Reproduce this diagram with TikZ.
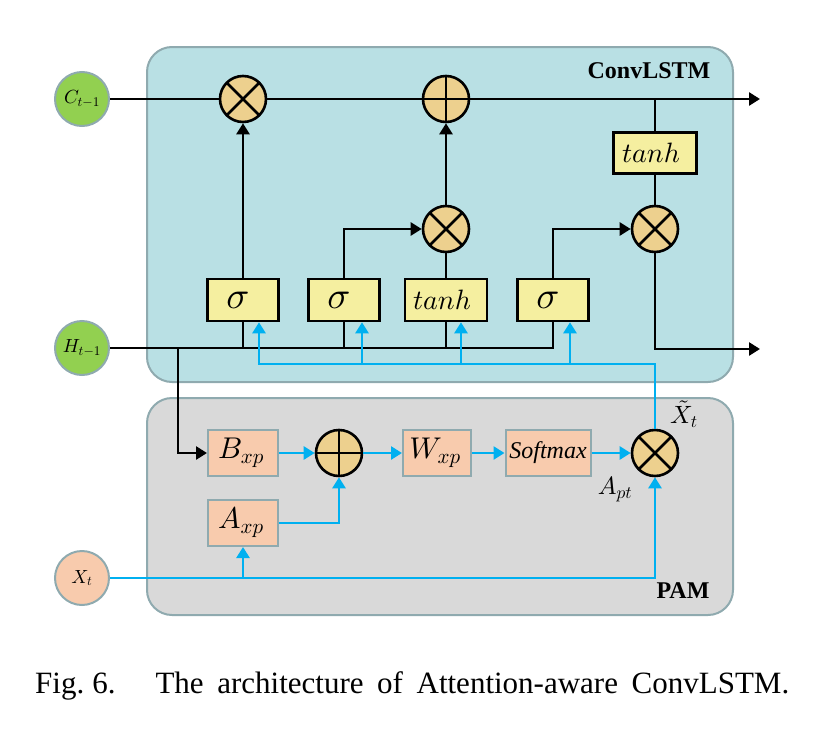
\documentclass[tikz,border=0pt]{standalone}
\usepackage{fontspec}
\setmainfont{Liberation Serif}
\DeclareFontShape{OML}{cmm}{m}{it}{<->cmmi10}{}
\DeclareFontShape{OMS}{cmsy}{m}{n}{<->cmsy10}{}
\DeclareFontShape{OT1}{cmr}{m}{n}{<->cmr10}{}
\usetikzlibrary{arrows.meta,calc}
\definecolor{lstmfill}{RGB}{185,224,228}
\definecolor{pamfill}{RGB}{217,217,217}
\definecolor{bord}{RGB}{143,170,175}
\definecolor{cgreen}{RGB}{146,208,80}
\definecolor{peach}{RGB}{248,203,173}
\definecolor{opfill}{RGB}{237,208,142}
\definecolor{yfill}{RGB}{245,239,160}
\definecolor{lineblue}{RGB}{0,176,240}
\tikzset{
  ln/.style={line width=2.6pt},
  bl/.style={line width=2.6pt, draw=lineblue},
  arr/.style={-{Triangle[length=11pt,width=13pt]}},
  opc/.style={circle, draw, line width=2.6pt, fill=opfill, minimum size=46pt, inner sep=0pt},
  mul/.style={opc, path picture={\draw[line width=2.6pt] (path picture bounding box.north west) -- (path picture bounding box.south east) (path picture bounding box.north east) -- (path picture bounding box.south west);}},
  add/.style={opc, path picture={\draw[line width=2.6pt] (path picture bounding box.north) -- (path picture bounding box.south) (path picture bounding box.west) -- (path picture bounding box.east);}},
  ybox/.style={draw, line width=2.6pt, fill=yfill, minimum width=71pt, minimum height=42pt, inner sep=0pt},
  pbox/.style={draw=bord, line width=2pt, fill=peach, minimum width=70pt, minimum height=46pt, inner sep=0pt, font=\fontsize{30}{34}\selectfont},
  inp/.style={circle, draw=bord, line width=2pt, minimum size=54pt, inner sep=0pt, font=\fontsize{19}{21}\selectfont},
  region/.style={draw=bord, line width=2pt, rounded corners=25pt},
  sig/.style={font=\fontsize{38}{40}\selectfont},
  tnh/.style={font=\fontsize{28}{32}\selectfont},
  lbl/.style={font=\fontsize{25}{28}\selectfont, inner sep=1pt},
  ttl/.style={font=\bfseries\fontsize{24}{28}\selectfont}
}
\begin{document}
\begin{tikzpicture}[x=1pt,y=-1pt]
\useasboundingbox (0,0) rectangle (836,742);
% regions
\path[region, fill=lstmfill] (147,47) rectangle (733,382);
\path[region, fill=pamfill] (147,398) rectangle (733,615);
% inputs
\node[inp, fill=cgreen] (C) at (82,99) {$C_{t-1}$};
\node[inp, fill=cgreen] (H) at (82,348) {$H_{t-1}$};
\node[inp, fill=peach] (X) at (82,578) {$X_t$};
% operators
\node[mul] (m1) at (243,99) {};
\node[add] (p1) at (446,99) {};
\node[mul] (m2) at (446,229) {};
\node[mul] (m3) at (655,229) {};
\node[mul] (m4) at (655,453) {};
\node[add] (p2) at (339,453) {};
% gates
\node[ybox, sig] (s1) at (243,300) {$\sigma$\kern10pt};
\node[ybox, sig] (s2) at (344,300) {$\sigma$\kern10pt};
\node[ybox, tnh, minimum width=82pt] (t1) at (446,300) {$tanh$\kern8pt};
\node[ybox, sig] (s3) at (553,300) {$\sigma$\kern10pt};
\node[ybox, tnh, minimum width=83pt, minimum height=41pt] (t2) at (655,153) {$tanh$\kern8pt};
% PAM boxes
\node[pbox] (Bxp) at (243,453) {$B_{xp}$\kern4pt};
\node[pbox] (Axp) at (243,523) {$A_{xp}$\kern4pt};
\node[pbox, minimum width=68pt] (Wxp) at (437,453) {$W_{xp}$\kern4pt};
\node[pbox, minimum width=85pt, font=\itshape\fontsize{24}{28}\selectfont] (Soft) at (548,453) {Softmax};
% coordinates
\coordinate (cend) at (760,99);
\coordinate (hend) at (760,349);
\coordinate (hb) at (178,348);
\coordinate (b1) at (259,364);
\coordinate (b2) at (362,364);
\coordinate (b3) at (461,364);
\coordinate (b4) at (570,364);
\coordinate (xa) at (243,578);
% black connectors
\draw[ln] (C.east) -- (m1.west);
\draw[ln] (m1.east) -- (p1.west);
\draw[ln,arr] (p1.east) -- (cend);
\draw[ln] (t2.north) -- (t2.north |- cend);
\draw[ln] (t2.south) -- (m3.north);
\draw[ln,arr] (m3.south) |- (hend);
\draw[ln] (H.east) -| (s3.south);
\draw[ln] (s1.south) -- (s1.south |- H);
\draw[ln] (s2.south) -- (s2.south |- H);
\draw[ln] (t1.south) -- (t1.south |- H);
\draw[ln,arr] (s1.north) -- (m1.south);
\draw[ln,arr] (s2.north) |- (m2.west);
\draw[ln] (t1.north) -- (m2.south);
\draw[ln,arr] (m2.north) -- (p1.south);
\draw[ln,arr] (s3.north) |- (m3.west);
\draw[ln,arr] (hb) |- (Bxp.west);
% blue connectors
\draw[bl,arr] (m4.north) |- (b1) -- (b1 |- s1.south);
\draw[bl,arr] (b2) -- (b2 |- s2.south);
\draw[bl,arr] (b3) -- (b3 |- t1.south);
\draw[bl,arr] (b4) -- (b4 |- s3.south);
\draw[bl,arr] (Bxp.east) -- (p2.west);
\draw[bl,arr] (p2.east) -- (Wxp.west);
\draw[bl,arr] (Wxp.east) -- (Soft.west);
\draw[bl,arr] (Soft.east) -- (m4.west);
\draw[bl,arr] (Axp.east) -| (p2.south);
\draw[bl,arr] (X.east) -| (m4.south);
\draw[bl,arr] (xa) -- (Axp.south);
% labels
\node[lbl] (apt) at (615,490) {$A_{pt}$};
\node[lbl] (xt) at (684,414) {$\tilde{X}_t$};
\node[ttl] (lstm) at (649,71) {ConvLSTM};
\node[ttl] (pam) at (683,591) {PAM};
\node[anchor=base west, inner sep=0pt, font=\fontsize{31}{36}\selectfont] (cap) at (35,693)
  {\makebox[754pt][s]{Fig.\hspace*{8pt}6.\hspace*{40pt}The architecture of Attention-aware ConvLSTM.}};
\end{tikzpicture}
\end{document}
